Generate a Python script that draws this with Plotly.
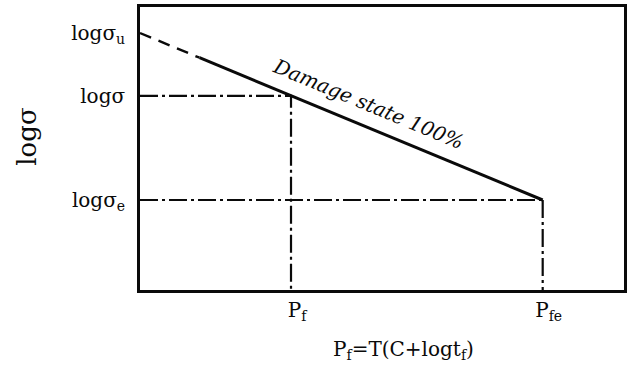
import plotly.graph_objects as go

# Stress levels (log scale, arbitrary units) and Larson-Miller parameter positions
log_sigma_u = 9.08
log_sigma = 6.86
log_sigma_e = 3.18
P_f = 3.12
P_fe = 8.32
dash_end_x = 1.23  # extrapolated (dashed) part of the curve ends here

y_tick_vals = [log_sigma_e, log_sigma, log_sigma_u]
y_tick_text = ["logσ<sub>e</sub>", "logσ", "logσ<sub>u</sub>"]
x_tick_vals = [P_f, P_fe]
x_tick_text = ["P<sub>f</sub>", "P<sub>fe</sub>"]

# straight master curve from (0, log σu) to (P_fe, log σe)
slope = (log_sigma_e - log_sigma_u) / (P_fe - 0.0)
y_dash_end = log_sigma_u + slope * dash_end_x

serif = "DejaVu Serif"
black = "#0a0a0a"

fig = go.Figure()

# dashed extrapolation
fig.add_trace(go.Scatter(x=[0.0, dash_end_x], y=[log_sigma_u, y_dash_end], mode="lines",
                         line=dict(color=black, width=2.4, dash="12px,8px"), hoverinfo="skip"))
# solid damage-state line
fig.add_trace(go.Scatter(x=[dash_end_x, P_fe], y=[y_dash_end, log_sigma_e], mode="lines",
                         line=dict(color=black, width=3), hoverinfo="skip"))

dashdot = "18px,4px,3px,4px"
# projection lines for the working stress
fig.add_trace(go.Scatter(x=[0.0, P_f, P_f], y=[log_sigma, log_sigma, 0.0], mode="lines",
                         line=dict(color=black, width=2.2, dash=dashdot), hoverinfo="skip"))
# projection lines for the endurance limit
fig.add_trace(go.Scatter(x=[0.0, P_fe], y=[log_sigma_e, log_sigma_e], mode="lines",
                         line=dict(color=black, width=2.2, dash=dashdot), hoverinfo="skip"))
fig.add_trace(go.Scatter(x=[P_fe, P_fe], y=[log_sigma_e, 0.0], mode="lines",
                         line=dict(color=black, width=2.2, dash=dashdot), hoverinfo="skip"))

# curve label
fig.add_annotation(x=4.72, y=6.57, xref="x", yref="y", text="Damage state 100%",
                   textangle=22.6, showarrow=False, xanchor="center", yanchor="middle",
                   font=dict(family=serif, size=20, color=black, style="italic"))

# axis titles
fig.add_annotation(x=(26 - 140) / 487, y=(290 - 137) / 283, xref="paper", yref="paper",
                   text="logσ", textangle=-90, showarrow=False,
                   xanchor="center", yanchor="middle",
                   font=dict(family=serif, size=26, color=black))
fig.add_annotation(x=(405 - 140) / 487, y=-(350 - 290) / 283, xref="paper", yref="paper",
                   text="P<sub>f</sub>=T(C+logt<sub>f</sub>)", showarrow=False,
                   xanchor="center", yanchor="middle",
                   font=dict(family=serif, size=20, color=black))

fig.update_xaxes(range=[0, 10], tickvals=x_tick_vals, ticktext=x_tick_text,
                 showgrid=False, zeroline=False, showline=True, mirror=True,
                 linecolor=black, linewidth=2.8, ticks="", ticklabelstandoff=0,
                 ticklabelshift=6,
                 tickfont=dict(family=serif, size=20, color=black), fixedrange=True)
fig.update_yaxes(range=[0, 10], tickvals=y_tick_vals, ticktext=y_tick_text,
                 showgrid=False, zeroline=False, showline=True, mirror=True,
                 linecolor=black, linewidth=2.8, ticks="", ticklabelstandoff=8,
                 tickfont=dict(family=serif, size=20, color=black), fixedrange=True)

fig.update_layout(width=629, height=367, margin=dict(l=140, r=2, t=7, b=77),
                  paper_bgcolor="white", plot_bgcolor="white", showlegend=False)

fig.write_html("out.html", config=dict(displayModeBar=False))
